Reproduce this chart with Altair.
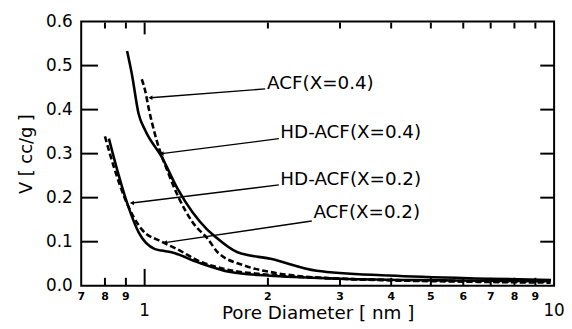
import altair as alt
import pandas as pd

# ---- data ----
hd04_x = [0.906, 0.931, 0.967, 1.003, 1.10, 1.207, 1.42, 1.481, 1.686, 2.03, 2.63, 3.95, 6.9, 9.83]
hd04_y = [0.533, 0.480, 0.390, 0.353, 0.293, 0.218, 0.128, 0.113, 0.076, 0.061, 0.034, 0.023, 0.016, 0.013]

acf04_x = [0.984, 1.003, 1.022, 1.07, 1.142, 1.207, 1.312, 1.427, 1.508, 1.75, 2.03, 2.99, 6.29, 9.8]
acf04_y = [0.469, 0.443, 0.405, 0.330, 0.256, 0.203, 0.143, 0.106, 0.076, 0.046, 0.031, 0.016, 0.009, 0.007]

hd02_x = [0.818, 0.857, 0.906, 0.967, 1.06, 1.10, 1.163, 1.35, 1.62, 2.0, 2.99, 5.73, 9.8]
hd02_y = [0.334, 0.263, 0.188, 0.121, 0.083, 0.080, 0.076, 0.053, 0.031, 0.023, 0.016, 0.012, 0.010]

acf02_x = [0.80, 0.841, 0.897, 0.984, 1.10, 1.207, 1.35, 1.565, 2.0, 2.99, 5.73, 9.8]
acf02_y = [0.339, 0.270, 0.196, 0.128, 0.100, 0.082, 0.057, 0.038, 0.025, 0.016, 0.011, 0.009]

ann_labels = ["ACF(X=0.4)", "HD-ACF(X=0.4)", "HD-ACF(X=0.2)", "ACF(X=0.2)"]
ann_tip_x = [1.033, 1.10, 0.931, 1.121]
ann_tip_y = [0.427, 0.300, 0.188, 0.098]
ann_end_x = [1.97, 2.127, 2.127, 2.559]
ann_end_y = [0.447, 0.334, 0.229, 0.147]
ann_text_x = [1.99, 2.145, 2.145, 2.583]
ann_text_y = [0.4465, 0.3364, 0.229, 0.154]

x_minor_ticks = [0.8, 0.9, 2, 3, 4, 5, 6, 7, 8, 9]
x_major_ticks = [1]
x_small_label_vals = [0.7, 0.8, 0.9, 2, 3, 4, 5, 6, 7, 8, 9]
x_small_label_text = ["7", "8", "9", "2", "3", "4", "5", "6", "7", "8", "9"]
x_big_label_vals = [1, 10]
x_big_label_text = ["1", "10"]
y_ticks = [0.1, 0.2, 0.3, 0.4, 0.5]
y_label_vals = [0.0, 0.1, 0.2, 0.3, 0.4, 0.5, 0.6]
x_domain = [0.7, 10]
y_domain = [0.0, 0.6]

FONT = "DejaVu Sans"
W, H = 478, 267

solid_rows, dashed_rows = [], []
for name, target, xs_, ys_ in [
    ("HD-ACF(X=0.4)", solid_rows, hd04_x, hd04_y),
    ("ACF(X=0.4)", dashed_rows, acf04_x, acf04_y),
    ("HD-ACF(X=0.2)", solid_rows, hd02_x, hd02_y),
    ("ACF(X=0.2)", dashed_rows, acf02_x, acf02_y),
]:
    for a, b in zip(xs_, ys_):
        target.append({"series": name, "x": a, "y": b})
solid_df = pd.DataFrame(solid_rows)
dashed_df = pd.DataFrame(dashed_rows)

ann_df = pd.DataFrame({
    "label": ann_labels, "tx": ann_tip_x, "ty": ann_tip_y,
    "ex": ann_end_x, "ey": ann_end_y, "lx": ann_text_x, "ly": ann_text_y,
})

xs = alt.Scale(type="log", domain=x_domain, nice=False)
ys = alt.Scale(domain=y_domain, nice=False, zero=True)

AX_X = alt.Axis(
    labels=False, ticks=False, domain=False, grid=False, tickSize=0,
    title="Pore Diameter  [ nm ]", titleFont=FONT, titleFontSize=18.5,
    titleFontWeight="normal", titleColor="black", titlePadding=18)
AX_Y = alt.Axis(
    values=y_label_vals, format=".1f", ticks=False, tickSize=0, domain=False,
    grid=False, labelFont=FONT, labelFontSize=17, labelColor="black",
    labelPadding=9, title="V  [ cc/g ]", titleFont=FONT, titleFontSize=18,
    titleFontWeight="normal", titleColor="black", titlePadding=10)


def X(f):
    return alt.X(f, scale=xs, axis=AX_X)


def Y(f):
    return alt.Y(f, scale=ys, axis=AX_Y)


solid = alt.Chart(solid_df).mark_line(
    color="black", strokeWidth=2.6, interpolate="monotone"
).encode(x=X("x:Q"), y=Y("y:Q"), detail="series:N")
dashed = alt.Chart(dashed_df).mark_line(
    color="black", strokeWidth=2.6, interpolate="monotone", strokeDash=[6, 3]
).encode(x=X("x:Q"), y=Y("y:Q"), detail="series:N")

ann_lines = alt.Chart(ann_df).mark_rule(color="black", strokeWidth=1.4).encode(
    x=X("tx:Q"), y=Y("ty:Q"), x2="ex:Q", y2="ey:Q",
)
ann_heads = alt.Chart(ann_df).mark_point(
    shape="triangle-left", filled=True, color="black", size=22, opacity=1
).encode(x=X("tx:Q"), y=Y("ty:Q"))
ann_text = alt.Chart(ann_df).mark_text(
    align="left", baseline="alphabetic", font=FONT, fontSize=18.5, color="black"
).encode(x=X("lx:Q"), y=Y("ly:Q"), text="label:N")

minor_df = pd.DataFrame({"v": x_minor_ticks})
major_df = pd.DataFrame({"v": x_major_ticks})
top_minor_df = pd.DataFrame({"v": x_minor_ticks, "side": "top"})
top_major_df = pd.DataFrame({"v": x_major_ticks, "side": "top"})
ytick_df = pd.DataFrame({"v": y_ticks})
one_df = pd.DataFrame({"k": [0]})

RULE = dict(color="black", strokeWidth=2)

ticks = [
    alt.Chart(minor_df).mark_rule(**RULE).encode(x=X("v:Q"), y=alt.value(H), y2=alt.value(H - 8)),
    alt.Chart(major_df).mark_rule(**RULE).encode(x=X("v:Q"), y=alt.value(H), y2=alt.value(H - 17)),
    alt.Chart(ytick_df).mark_rule(**RULE).encode(y=Y("v:Q"), x=alt.value(0), x2=alt.value(17)),
    alt.Chart(ytick_df).mark_rule(**RULE).encode(y=Y("v:Q"), x=alt.value(W), x2=alt.value(W - 14)),
]

small_lab = alt.Chart(pd.DataFrame({"v": x_small_label_vals, "t": x_small_label_text})).mark_text(
    baseline="alphabetic", font=FONT, fontSize=11, fontWeight="bold", color="black"
).encode(x=X("v:Q"), y=alt.value(H + 14), text="t:N")
big_lab = alt.Chart(pd.DataFrame({"v": x_big_label_vals, "t": x_big_label_text})).mark_text(
    baseline="alphabetic", font=FONT, fontSize=17, color="black"
).encode(x=X("v:Q"), y=alt.value(H + 31), text="t:N")

# frame and top ticks drawn last
frame = alt.Chart(one_df).mark_rect(filled=False, stroke="black", strokeWidth=2).encode(
    x=alt.datum(x_domain[0], scale=xs), x2=alt.datum(x_domain[1]),
    y=alt.datum(y_domain[0], scale=ys), y2=alt.datum(y_domain[1]))
top_minor = alt.Chart(top_minor_df).mark_rule(**RULE).encode(
    x=alt.X("v:Q", scale=xs), y=alt.value(1), y2=alt.value(7))
top_major = alt.Chart(top_major_df).mark_rule(**RULE).encode(
    x=alt.X("v:Q", scale=xs), y=alt.value(1), y2=alt.value(13))

chart = alt.layer(
    solid, dashed, ann_lines, ann_heads, ann_text, *ticks, small_lab, big_lab,
    frame, top_minor, top_major,
).properties(
    width=W, height=H,
    autosize=alt.AutoSizeParams(type="none"),
    padding={"left": 74, "top": 12, "right": 10, "bottom": 38},
    background="white",
).configure_view(stroke=None)

chart.save("out.html", embed_options={"renderer": "svg", "actions": False})
